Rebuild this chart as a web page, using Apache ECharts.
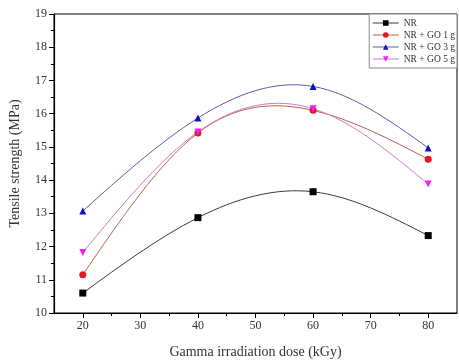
<!DOCTYPE html>
<html>
<head>
<meta charset="utf-8">
<script src="https://cdn.jsdelivr.net/npm/echarts@6/dist/echarts.min.js"></script>
<style>
  html, body { margin: 0; padding: 0; background: #fff; }
  #main { width: 459px; height: 364px; }
</style>
</head>
<body>
<div id="main"></div>
<script>
const doses = [20, 40, 60, 80]
const names = ['NR', 'NR + GO 1 g', 'NR + GO 3 g', 'NR + GO 5 g']
const nr = [10.6, 12.87, 13.65, 12.33]
const go1 = [11.15, 15.42, 16.1, 14.63]
const go3 = [13.07, 15.87, 16.82, 14.97]
const go5 = [11.82, 15.45, 16.15, 13.88]
const xTicks = [20, 30, 40, 50, 60, 70, 80]
const xMinor = [25, 35, 45, 55, 65, 75]

const font = "'Liberation Serif', 'Times New Roman', serif"

const styles = [
  { marker: '#000000', line: '#3a3a3a', symbol: 'rect', rotate: 0 },
  { marker: '#e5161c', line: '#b8644c', symbol: 'circle', rotate: 0 },
  { marker: '#1010c8', line: '#5c5ca8', symbol: 'triangle', rotate: 0 },
  { marker: '#ee22ee', line: '#d07ad0', symbol: 'triangle', rotate: 180 },
]

// natural cubic spline slopes (start/end of each segment), like the Origin spline line
function splineSlopes(xs, ys) {
  const n = xs.length
  const h = [], d = []
  for (let i = 0; i < n - 1; i++) {
    h.push(xs[i + 1] - xs[i])
    d.push((ys[i + 1] - ys[i]) / h[i])
  }
  // tridiagonal solve for second derivatives, M[0] = M[n-1] = 0
  const M = new Array(n).fill(0)
  const a = [], b = [], c = [], r = []
  for (let i = 1; i < n - 1; i++) {
    a.push(h[i - 1]); b.push(2 * (h[i - 1] + h[i])); c.push(h[i])
    r.push(6 * (d[i] - d[i - 1]))
  }
  const m = r.length
  for (let i = 1; i < m; i++) {
    const w = a[i] / b[i - 1]
    b[i] -= w * c[i - 1]
    r[i] -= w * r[i - 1]
  }
  for (let i = m - 1; i >= 0; i--) {
    M[i + 1] = (r[i] - (i < m - 1 ? c[i] * M[i + 2] : 0)) / b[i]
  }
  return h.map((hi, i) => ({
    s0: d[i] - hi * (2 * M[i] + M[i + 1]) / 6,
    s1: d[i] + hi * (M[i] + 2 * M[i + 1]) / 6,
  }))
}

const chart = echarts.init(document.getElementById('main'))

const xBase = {
  type: 'value',
  min: 15,
  max: 85,
  splitLine: { show: false },
}

const allData = [nr, go1, go3, go5]

const curveSeries = allData.map((vals, i) => {
  const slopes = splineSlopes(doses, vals)
  return {
    name: names[i] + ' curve',
    type: 'custom',
    z: 1,
    data: doses.map((d, j) => [d, vals[j]]),
    encode: { x: 0, y: 1 },
    renderItem: (params, api) => {
      const j = params.dataIndex
      if (j >= doses.length - 1) return null
      const h = doses[j + 1] - doses[j]
      const p0 = api.coord([doses[j], vals[j]])
      const p1 = api.coord([doses[j + 1], vals[j + 1]])
      const c0 = api.coord([doses[j] + h / 3, vals[j] + slopes[j].s0 * h / 3])
      const c1 = api.coord([doses[j + 1] - h / 3, vals[j + 1] - slopes[j].s1 * h / 3])
      return {
        type: 'bezierCurve',
        shape: { x1: p0[0], y1: p0[1], x2: p1[0], y2: p1[1], cpx1: c0[0], cpy1: c0[1], cpx2: c1[0], cpy2: c1[1] },
        style: { stroke: styles[i].line, lineWidth: 1, fill: null },
        silent: true,
      }
    },
  }
})

chart.setOption({
  animation: false,
  textStyle: { fontFamily: font },
  grid: {
    left: 51, right: 2, top: 14, bottom: 48,
    show: true, borderColor: '#000', borderWidth: 1,
  },
  legend: {
    data: names.map((n, i) => ({ name: n, lineStyle: { color: styles[i].line, width: 1, opacity: 1 } })),
    orient: 'vertical',
    right: 2,
    top: 14,
    borderColor: '#888',
    borderWidth: 1,
    backgroundColor: '#fff',
    padding: [4, 2, 4, 3],
    itemGap: 2,
    itemWidth: 26,
    itemHeight: 7,
    textStyle: { fontFamily: font, fontSize: 9.5, color: '#333' },
  },
  xAxis: [
    {
      ...xBase,
      name: 'Gamma irradiation dose (kGy)',
      nameLocation: 'middle',
      nameGap: 32,
      nameTextStyle: { fontFamily: font, fontSize: 14, color: '#333' },
      axisLine: { show: true, lineStyle: { color: '#000', width: 1.2 } },
      axisTick: { show: true, length: 5, customValues: xTicks, lineStyle: { color: '#000' } },
      axisLabel: { customValues: xTicks, fontFamily: font, fontSize: 12, color: '#333', margin: 7 },
    },
    {
      ...xBase,
      position: 'bottom',
      axisLine: { show: false },
      axisTick: { show: true, length: 3, customValues: xMinor, lineStyle: { color: '#000' } },
      axisLabel: { show: false },
    },
  ],
  yAxis: {
    type: 'value',
    min: 10,
    max: 19,
    interval: 1,
    name: 'Tensile strength (MPa)',
    nameLocation: 'middle',
    nameGap: 32,
    nameTextStyle: { fontFamily: font, fontSize: 14, color: '#333' },
    splitLine: { show: false },
    axisLine: { show: true, lineStyle: { color: '#000', width: 1.2 } },
    axisTick: { show: true, length: 5, lineStyle: { color: '#000' } },
    minorTick: { show: true, splitNumber: 2, length: 3, lineStyle: { color: '#000' } },
    axisLabel: { fontFamily: font, fontSize: 12, color: '#333', margin: 7 },
  },
  series: curveSeries.concat(allData.map((vals, i) => ({
    name: names[i],
    type: 'line',
    z: 3,
    data: doses.map((d, j) => [d, vals[j]]),
    symbol: styles[i].symbol,
    symbolRotate: styles[i].rotate,
    symbolSize: 7,
    itemStyle: { color: styles[i].marker },
    lineStyle: { color: styles[i].line, width: 0, opacity: 0 },
  }))),
})
</script>
</body>
</html>
